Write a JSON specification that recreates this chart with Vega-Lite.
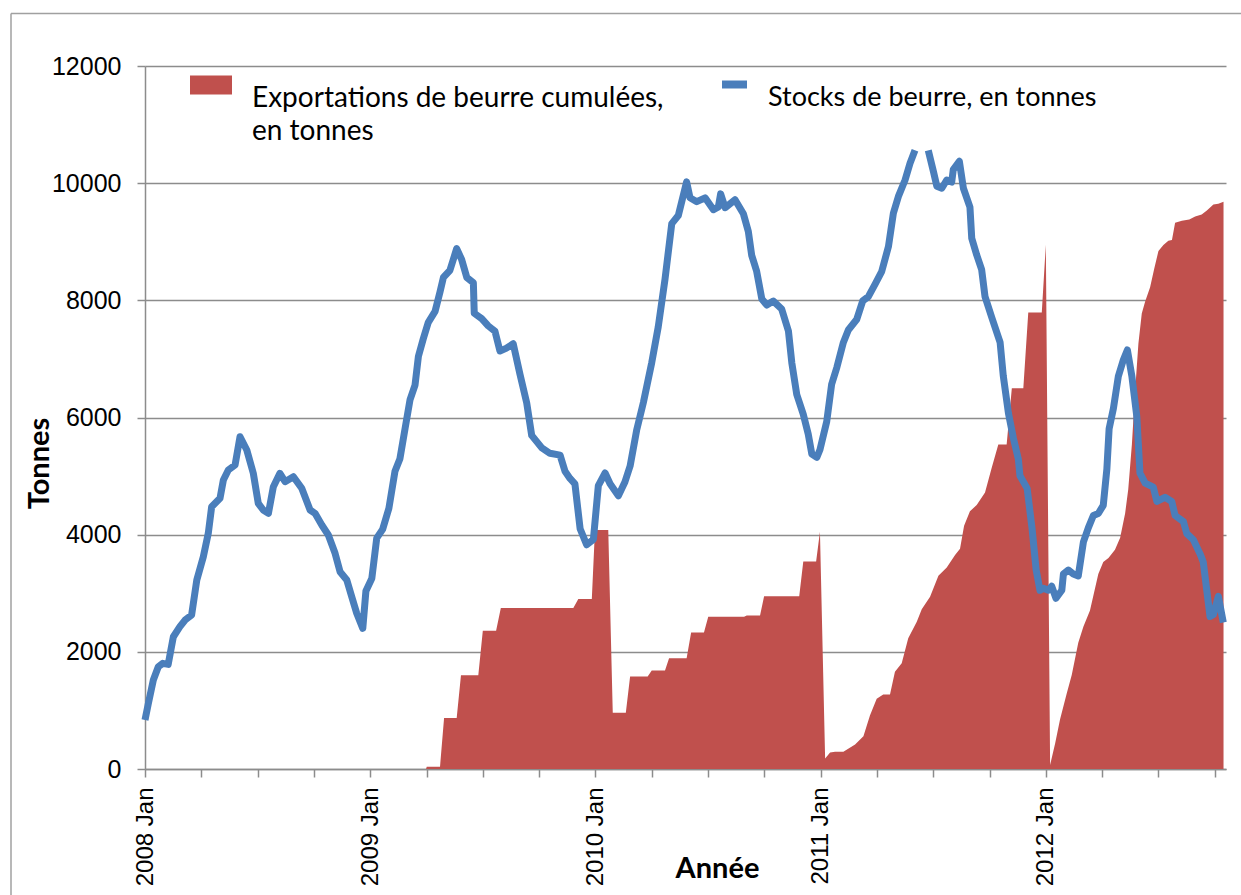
{
  "$schema": "https://vega.github.io/schema/vega-lite/v6.json",
  "width": 1081,
  "height": 703,
  "autosize": {"type": "none"},
  "padding": {"left": 145, "top": 66, "right": 15, "bottom": 126},
  "background": "white",
  "config": {
    "view": {"stroke": null},
    "style": {"guide-label": {"lineHeight": 33}}
  },
  "datasets": {
    "stocks": [
      {"annee": 2008.000, "tonnes": 836}, {"annee": 2008.015, "tonnes": 1121}, {"annee": 2008.037, "tonnes": 1519}, {"annee": 2008.059, "tonnes": 1746},
      {"annee": 2008.079, "tonnes": 1803}, {"annee": 2008.103, "tonnes": 1786}, {"annee": 2008.126, "tonnes": 2258}, {"annee": 2008.155, "tonnes": 2429},
      {"annee": 2008.178, "tonnes": 2543}, {"annee": 2008.207, "tonnes": 2628}, {"annee": 2008.230, "tonnes": 3226}, {"annee": 2008.259, "tonnes": 3624},
      {"annee": 2008.281, "tonnes": 4023}, {"annee": 2008.296, "tonnes": 4478}, {"annee": 2008.333, "tonnes": 4620}, {"annee": 2008.348, "tonnes": 4933},
      {"annee": 2008.370, "tonnes": 5104}, {"annee": 2008.400, "tonnes": 5189}, {"annee": 2008.422, "tonnes": 5672}, {"annee": 2008.452, "tonnes": 5445},
      {"annee": 2008.481, "tonnes": 5047}, {"annee": 2008.503, "tonnes": 4535}, {"annee": 2008.525, "tonnes": 4421}, {"annee": 2008.548, "tonnes": 4364},
      {"annee": 2008.570, "tonnes": 4819}, {"annee": 2008.599, "tonnes": 5047}, {"annee": 2008.622, "tonnes": 4905}, {"annee": 2008.659, "tonnes": 4990},
      {"annee": 2008.696, "tonnes": 4791}, {"annee": 2008.733, "tonnes": 4421}, {"annee": 2008.755, "tonnes": 4364}, {"annee": 2008.785, "tonnes": 4165},
      {"annee": 2008.814, "tonnes": 3994}, {"annee": 2008.844, "tonnes": 3682}, {"annee": 2008.866, "tonnes": 3368}, {"annee": 2008.896, "tonnes": 3226},
      {"annee": 2008.918, "tonnes": 2941}, {"annee": 2008.940, "tonnes": 2658}, {"annee": 2008.967, "tonnes": 2401}, {"annee": 2008.981, "tonnes": 3040},
      {"annee": 2009.007, "tonnes": 3250}, {"annee": 2009.029, "tonnes": 3940}, {"annee": 2009.055, "tonnes": 4090}, {"annee": 2009.083, "tonnes": 4450},
      {"annee": 2009.110, "tonnes": 5082}, {"annee": 2009.132, "tonnes": 5297}, {"annee": 2009.155, "tonnes": 5817}, {"annee": 2009.177, "tonnes": 6307},
      {"annee": 2009.199, "tonnes": 6553}, {"annee": 2009.214, "tonnes": 7043}, {"annee": 2009.236, "tonnes": 7348}, {"annee": 2009.258, "tonnes": 7625},
      {"annee": 2009.288, "tonnes": 7810}, {"annee": 2009.310, "tonnes": 8146}, {"annee": 2009.325, "tonnes": 8391}, {"annee": 2009.354, "tonnes": 8513},
      {"annee": 2009.384, "tonnes": 8882}, {"annee": 2009.406, "tonnes": 8698}, {"annee": 2009.429, "tonnes": 8391}, {"annee": 2009.458, "tonnes": 8300},
      {"annee": 2009.462, "tonnes": 7779}, {"annee": 2009.495, "tonnes": 7687}, {"annee": 2009.524, "tonnes": 7564}, {"annee": 2009.554, "tonnes": 7472},
      {"annee": 2009.576, "tonnes": 7135}, {"annee": 2009.603, "tonnes": 7180}, {"annee": 2009.635, "tonnes": 7258}, {"annee": 2009.665, "tonnes": 6738},
      {"annee": 2009.695, "tonnes": 6248}, {"annee": 2009.717, "tonnes": 5695}, {"annee": 2009.762, "tonnes": 5481}, {"annee": 2009.798, "tonnes": 5389},
      {"annee": 2009.843, "tonnes": 5358}, {"annee": 2009.865, "tonnes": 5082}, {"annee": 2009.887, "tonnes": 4960}, {"annee": 2009.909, "tonnes": 4868},
      {"annee": 2009.932, "tonnes": 4102}, {"annee": 2009.961, "tonnes": 3827}, {"annee": 2009.991, "tonnes": 3918}, {"annee": 2010.013, "tonnes": 4838},
      {"annee": 2010.043, "tonnes": 5053}, {"annee": 2010.065, "tonnes": 4868}, {"annee": 2010.102, "tonnes": 4664}, {"annee": 2010.131, "tonnes": 4899},
      {"annee": 2010.154, "tonnes": 5172}, {"annee": 2010.183, "tonnes": 5782}, {"annee": 2010.213, "tonnes": 6256}, {"annee": 2010.250, "tonnes": 6936},
      {"annee": 2010.279, "tonnes": 7547}, {"annee": 2010.309, "tonnes": 8361}, {"annee": 2010.339, "tonnes": 9310}, {"annee": 2010.368, "tonnes": 9447},
      {"annee": 2010.405, "tonnes": 10022}, {"annee": 2010.420, "tonnes": 9750}, {"annee": 2010.450, "tonnes": 9684}, {"annee": 2010.487, "tonnes": 9750},
      {"annee": 2010.524, "tonnes": 9547}, {"annee": 2010.546, "tonnes": 9595}, {"annee": 2010.556, "tonnes": 9818}, {"annee": 2010.576, "tonnes": 9581},
      {"annee": 2010.620, "tonnes": 9718}, {"annee": 2010.657, "tonnes": 9479}, {"annee": 2010.679, "tonnes": 9175}, {"annee": 2010.694, "tonnes": 8767},
      {"annee": 2010.716, "tonnes": 8496}, {"annee": 2010.739, "tonnes": 8021}, {"annee": 2010.761, "tonnes": 7919}, {"annee": 2010.790, "tonnes": 7987},
      {"annee": 2010.827, "tonnes": 7852}, {"annee": 2010.857, "tonnes": 7478}, {"annee": 2010.872, "tonnes": 6936}, {"annee": 2010.894, "tonnes": 6393},
      {"annee": 2010.923, "tonnes": 6053}, {"annee": 2010.945, "tonnes": 5715}, {"annee": 2010.961, "tonnes": 5375}, {"annee": 2010.983, "tonnes": 5320},
      {"annee": 2010.997, "tonnes": 5450}, {"annee": 2011.027, "tonnes": 5929}, {"annee": 2011.049, "tonnes": 6569}, {"annee": 2011.072, "tonnes": 6854},
      {"annee": 2011.101, "tonnes": 7281}, {"annee": 2011.123, "tonnes": 7494}, {"annee": 2011.160, "tonnes": 7672}, {"annee": 2011.187, "tonnes": 7992},
      {"annee": 2011.212, "tonnes": 8062}, {"annee": 2011.242, "tonnes": 8276}, {"annee": 2011.271, "tonnes": 8489}, {"annee": 2011.301, "tonnes": 8916},
      {"annee": 2011.323, "tonnes": 9486}, {"annee": 2011.345, "tonnes": 9770}, {"annee": 2011.375, "tonnes": 10054}, {"annee": 2011.397, "tonnes": 10339},
      {"annee": 2011.419, "tonnes": 10560}, {"annee": 2011.450, "tonnes": null}, {"annee": 2011.478, "tonnes": 10560}, {"annee": 2011.501, "tonnes": 10196},
      {"annee": 2011.516, "tonnes": 9947}, {"annee": 2011.538, "tonnes": 9913}, {"annee": 2011.560, "tonnes": 10054}, {"annee": 2011.582, "tonnes": 10018},
      {"annee": 2011.589, "tonnes": 10232}, {"annee": 2011.616, "tonnes": 10373}, {"annee": 2011.634, "tonnes": 9913}, {"annee": 2011.663, "tonnes": 9592},
      {"annee": 2011.671, "tonnes": 9059}, {"annee": 2011.693, "tonnes": 8774}, {"annee": 2011.715, "tonnes": 8525}, {"annee": 2011.730, "tonnes": 8062},
      {"annee": 2011.760, "tonnes": 7707}, {"annee": 2011.797, "tonnes": 7281}, {"annee": 2011.811, "tonnes": 6712}, {"annee": 2011.834, "tonnes": 6072},
      {"annee": 2011.856, "tonnes": 5645}, {"annee": 2011.878, "tonnes": 5288}, {"annee": 2011.885, "tonnes": 5005}, {"annee": 2011.917, "tonnes": 4790},
      {"annee": 2011.939, "tonnes": 4100}, {"annee": 2011.957, "tonnes": 3400}, {"annee": 2011.974, "tonnes": 3050}, {"annee": 2011.989, "tonnes": 3086},
      {"annee": 2012.011, "tonnes": 3052}, {"annee": 2012.026, "tonnes": 3120}, {"annee": 2012.045, "tonnes": 2914}, {"annee": 2012.071, "tonnes": 3052},
      {"annee": 2012.078, "tonnes": 3329}, {"annee": 2012.100, "tonnes": 3397}, {"annee": 2012.122, "tonnes": 3329}, {"annee": 2012.144, "tonnes": 3295},
      {"annee": 2012.167, "tonnes": 3878}, {"annee": 2012.189, "tonnes": 4121}, {"annee": 2012.211, "tonnes": 4327}, {"annee": 2012.233, "tonnes": 4361},
      {"annee": 2012.255, "tonnes": 4500}, {"annee": 2012.271, "tonnes": 5119}, {"annee": 2012.281, "tonnes": 5808}, {"annee": 2012.300, "tonnes": 6153},
      {"annee": 2012.322, "tonnes": 6705}, {"annee": 2012.344, "tonnes": 6981}, {"annee": 2012.362, "tonnes": 7153}, {"annee": 2012.382, "tonnes": 6705},
      {"annee": 2012.404, "tonnes": 6015}, {"annee": 2012.418, "tonnes": 5051}, {"annee": 2012.441, "tonnes": 4879}, {"annee": 2012.477, "tonnes": 4810},
      {"annee": 2012.493, "tonnes": 4568}, {"annee": 2012.529, "tonnes": 4637}, {"annee": 2012.559, "tonnes": 4568}, {"annee": 2012.574, "tonnes": 4327},
      {"annee": 2012.611, "tonnes": 4223}, {"annee": 2012.626, "tonnes": 4017}, {"annee": 2012.655, "tonnes": 3914}, {"annee": 2012.685, "tonnes": 3672},
      {"annee": 2012.699, "tonnes": 3534}, {"annee": 2012.729, "tonnes": 2603}, {"annee": 2012.744, "tonnes": 2637}, {"annee": 2012.766, "tonnes": 2948},
      {"annee": 2012.788, "tonnes": 2501}
    ],
    "exports": [
      {"annee": 2008.000, "tonnes": 0}, {"annee": 2009.248, "tonnes": 0}, {"annee": 2009.251, "tonnes": 40}, {"annee": 2009.310, "tonnes": 40},
      {"annee": 2009.328, "tonnes": 870}, {"annee": 2009.384, "tonnes": 870}, {"annee": 2009.403, "tonnes": 1600}, {"annee": 2009.480, "tonnes": 1600},
      {"annee": 2009.500, "tonnes": 2360}, {"annee": 2009.559, "tonnes": 2360}, {"annee": 2009.580, "tonnes": 2750}, {"annee": 2009.902, "tonnes": 2750},
      {"annee": 2009.924, "tonnes": 2900}, {"annee": 2009.984, "tonnes": 2900}, {"annee": 2009.998, "tonnes": 4080}, {"annee": 2010.057, "tonnes": 4080},
      {"annee": 2010.077, "tonnes": 960}, {"annee": 2010.135, "tonnes": 960}, {"annee": 2010.154, "tonnes": 1580}, {"annee": 2010.232, "tonnes": 1580},
      {"annee": 2010.250, "tonnes": 1680}, {"annee": 2010.309, "tonnes": 1680}, {"annee": 2010.327, "tonnes": 1890}, {"annee": 2010.405, "tonnes": 1890},
      {"annee": 2010.425, "tonnes": 2330}, {"annee": 2010.482, "tonnes": 2330}, {"annee": 2010.501, "tonnes": 2600}, {"annee": 2010.660, "tonnes": 2600},
      {"annee": 2010.672, "tonnes": 2620}, {"annee": 2010.731, "tonnes": 2620}, {"annee": 2010.749, "tonnes": 2950}, {"annee": 2010.905, "tonnes": 2950},
      {"annee": 2010.923, "tonnes": 3540}, {"annee": 2010.980, "tonnes": 3540}, {"annee": 2010.997, "tonnes": 4050}, {"annee": 2011.020, "tonnes": 180},
      {"annee": 2011.042, "tonnes": 280}, {"annee": 2011.064, "tonnes": 296}, {"annee": 2011.101, "tonnes": 296}, {"annee": 2011.153, "tonnes": 417},
      {"annee": 2011.190, "tonnes": 559}, {"annee": 2011.219, "tonnes": 915}, {"annee": 2011.249, "tonnes": 1199}, {"annee": 2011.278, "tonnes": 1270},
      {"annee": 2011.308, "tonnes": 1270}, {"annee": 2011.330, "tonnes": 1661}, {"annee": 2011.360, "tonnes": 1803}, {"annee": 2011.389, "tonnes": 2230},
      {"annee": 2011.427, "tonnes": 2514}, {"annee": 2011.449, "tonnes": 2728}, {"annee": 2011.486, "tonnes": 2941}, {"annee": 2011.523, "tonnes": 3298},
      {"annee": 2011.560, "tonnes": 3440}, {"annee": 2011.597, "tonnes": 3653}, {"annee": 2011.619, "tonnes": 3760}, {"annee": 2011.637, "tonnes": 4151},
      {"annee": 2011.663, "tonnes": 4399}, {"annee": 2011.693, "tonnes": 4506}, {"annee": 2011.730, "tonnes": 4720}, {"annee": 2011.760, "tonnes": 5147},
      {"annee": 2011.789, "tonnes": 5538}, {"annee": 2011.826, "tonnes": 5538}, {"annee": 2011.849, "tonnes": 6498}, {"annee": 2011.900, "tonnes": 6498},
      {"annee": 2011.922, "tonnes": 7793}, {"annee": 2011.982, "tonnes": 7793}, {"annee": 2012.000, "tonnes": 8950}, {"annee": 2012.019, "tonnes": 70},
      {"annee": 2012.041, "tonnes": 432}, {"annee": 2012.063, "tonnes": 845}, {"annee": 2012.093, "tonnes": 1294}, {"annee": 2012.115, "tonnes": 1605},
      {"annee": 2012.144, "tonnes": 2156}, {"annee": 2012.167, "tonnes": 2431}, {"annee": 2012.196, "tonnes": 2707}, {"annee": 2012.233, "tonnes": 3329},
      {"annee": 2012.255, "tonnes": 3534}, {"annee": 2012.278, "tonnes": 3603}, {"annee": 2012.307, "tonnes": 3742}, {"annee": 2012.330, "tonnes": 3948},
      {"annee": 2012.352, "tonnes": 4361}, {"annee": 2012.366, "tonnes": 4775}, {"annee": 2012.382, "tonnes": 5534}, {"annee": 2012.396, "tonnes": 6430},
      {"annee": 2012.411, "tonnes": 7257}, {"annee": 2012.426, "tonnes": 7774}, {"annee": 2012.441, "tonnes": 7980}, {"annee": 2012.463, "tonnes": 8223},
      {"annee": 2012.481, "tonnes": 8534}, {"annee": 2012.500, "tonnes": 8842}, {"annee": 2012.522, "tonnes": 8946}, {"annee": 2012.544, "tonnes": 9015},
      {"annee": 2012.560, "tonnes": 9030}, {"annee": 2012.574, "tonnes": 9326}, {"annee": 2012.604, "tonnes": 9360}, {"annee": 2012.637, "tonnes": 9380},
      {"annee": 2012.663, "tonnes": 9430}, {"annee": 2012.692, "tonnes": 9464}, {"annee": 2012.715, "tonnes": 9532}, {"annee": 2012.744, "tonnes": 9636},
      {"annee": 2012.766, "tonnes": 9650}, {"annee": 2012.789, "tonnes": 9684}
    ]
  },
  "layer": [
    {
      "data": {"name": "exports"},
      "mark": {"type": "area", "interpolate": "linear", "opacity": 1},
      "encoding": {
        "x": {
          "field": "annee", "type": "quantitative",
          "scale": {"domain": [2008, 2012.8], "nice": false, "zero": false},
          "axis": {
            "values": [2008, 2008.25, 2008.5, 2008.75, 2009, 2009.25, 2009.5, 2009.75, 2010, 2010.25, 2010.5, 2010.75, 2011, 2011.25, 2011.5, 2011.75, 2012, 2012.25, 2012.5, 2012.75],
            "labelExpr": "datum.value % 1 == 0 ? datum.value + ' Jan' : ''",
            "labelAngle": 270,
            "labelFont": "Liberation Sans", "labelFontSize": 24, "labelColor": "black",
            "labelPadding": 10, "labelOverlap": false, "labelBound": false, "labelFlush": false,
            "tickSize": 8, "tickColor": "#8c8c8c", "tickWidth": 1.5,
            "domainColor": "#8c8c8c", "domainWidth": 1.5,
            "grid": false,
            "title": "Année", "titleFont": "Lato", "titleFontSize": 29, "titleFontWeight": "bold", "titleColor": "black",
            "titleX": 572, "titleY": 108, "titleBaseline": "alphabetic", "titleAlign": "center"
          }
        },
        "y": {
          "field": "tonnes", "type": "quantitative",
          "scale": {"domain": [0, 12000], "nice": false},
          "axis": {
            "values": [0, 2000, 4000, 6000, 8000, 10000, 12000], "format": "d",
            "grid": true, "gridColor": "#8c8c8c", "gridWidth": 1.5,
            "labelFont": "Liberation Sans", "labelFontSize": 25, "labelColor": "black", "labelPadding": 16,
            "tickSize": 8, "tickColor": "#8c8c8c", "tickWidth": 1.5,
            "domainColor": "#8c8c8c", "domainWidth": 1.5,
            "title": "Tonnes", "titleFont": "Lato", "titleFontSize": 29, "titleFontWeight": "bold", "titleColor": "black",
            "titleAngle": 270, "titleX": -97, "titleY": 397, "titleBaseline": "alphabetic", "titleAlign": "center"
          }
        },
        "fill": {
          "datum": "Exportations de beurre cumulées, en tonnes",
          "scale": {"range": ["#c0504d"]},
          "legend": {
            "orient": "none", "legendX": 52, "legendY": 5, "title": null, "padding": 0,
            "symbolType": "M-2.1,-0.95H2.1V0.95H-2.1Z", "symbolSize": 400, "symbolStrokeWidth": 0, "symbolOpacity": 1,
            "labelExpr": "['Exportations de beurre cumulées,', 'en tonnes']",
            "labelFont": "Lato", "labelFontSize": 28, "labelColor": "black", "labelLimit": 800,
            "labelOffset": 27, "labelBaseline": "top"
          }
        }
      }
    },
    {
      "data": {"name": "stocks"},
      "mark": {"type": "line", "strokeWidth": 7, "strokeJoin": "round", "strokeCap": "butt", "invalid": "break-paths-show-path-domains"},
      "encoding": {
        "x": {"field": "annee", "type": "quantitative"},
        "y": {"field": "tonnes", "type": "quantitative"},
        "stroke": {
          "datum": "Stocks de beurre, en tonnes",
          "scale": {"range": ["#4a7ebb"]},
          "legend": {
            "orient": "none", "legendX": 573, "legendY": 2, "title": null, "padding": 0,
            "symbolType": "stroke", "symbolSize": 625, "symbolStrokeWidth": 8, "symbolOpacity": 1,
            "labelFont": "Lato", "labelFontSize": 27, "labelColor": "black", "labelLimit": 800,
            "labelOffset": 17, "labelBaseline": "top"
          }
        }
      }
    },
    {
      "data": {"values": [{}]},
      "mark": {"type": "rule", "color": "#a0a0a0", "strokeWidth": 1.5},
      "encoding": {
        "x": {"datum": 2007.405, "type": "quantitative"},
        "x2": {"datum": 2013.2},
        "y": {"datum": 12896, "type": "quantitative"}
      }
    },
    {
      "data": {"values": [{}]},
      "mark": {"type": "rule", "color": "#a0a0a0", "strokeWidth": 1.5},
      "encoding": {
        "x": {"datum": 2007.405, "type": "quantitative"},
        "y": {"datum": 12896, "type": "quantitative"},
        "y2": {"datum": -2500}
      }
    }
  ]
}
